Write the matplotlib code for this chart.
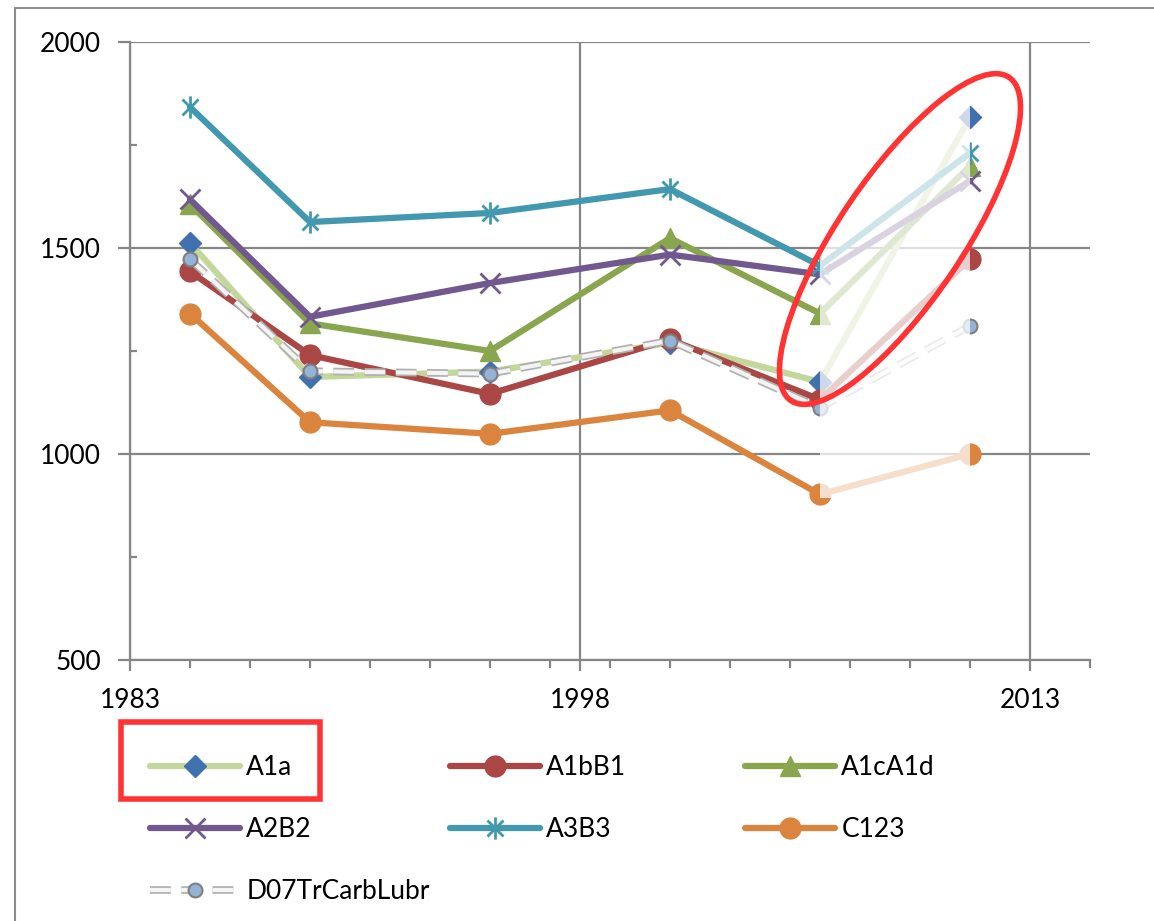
import numpy as np
import matplotlib.pyplot as plt
import matplotlib.patheffects as pe
from matplotlib.patches import Ellipse, Rectangle
from matplotlib.path import Path

plt.rcParams['font.family'] = ['Lato', 'DejaVu Sans']

years = [1985, 1989, 1995, 2001, 2006, 2011]
a1a = [1512, 1187, 1200, 1270, 1175, 1817]
a1bb1 = [1443, 1240, 1146, 1278, 1132, 1473]
a1ca1d = [1606, 1317, 1250, 1524, 1341, 1699]
a2b2 = [1618, 1333, 1415, 1484, 1436, 1663]
a3b3 = [1842, 1563, 1585, 1643, 1457, 1731]
c123 = [1341, 1077, 1049, 1106, 902, 1000]
d07 = [1473, 1201, 1195, 1275, 1112, 1311]

x_major = [1983, 1998, 2013]
x_minor = list(range(1985, 2016, 2))
y_major = [500, 1000, 1500, 2000]
y_minor = [750, 1250, 1750]

# excel style asterisk: X with a vertical bar
star = Path([(0, -1), (0, 1), (-0.72, -0.72), (0.72, 0.72), (-0.72, 0.72), (0.72, -0.72)],
            [Path.MOVETO, Path.LINETO] * 3)

gray = '#868686'
fig = plt.figure(figsize=(11.54, 9.21), dpi=100)
ax = fig.add_axes([130 / 1154, 1 - 660 / 921, 960 / 1154, 618 / 921])

kw = dict(lw=4.5, solid_capstyle='round', solid_joinstyle='round')
h_a1a, = ax.plot(years, a1a, color='#C3D69B', marker='D', ms=11, mfc='#4070AD', mec='#4070AD', **kw)
h_a1b, = ax.plot(years, a1bb1, color='#AA4643', marker='o', ms=15, **kw)
h_a1c, = ax.plot(years, a1ca1d, color='#89A54E', marker='^', ms=15, **kw)
h_a2, = ax.plot(years, a2b2, color='#71588F', marker='x', ms=15, mew=2, **kw)
h_a3, = ax.plot(years, a3b3, color='#4198AF', marker=star, ms=16, mew=2, **kw)
h_c, = ax.plot(years, c123, color='#DB843D', marker='o', ms=15, **kw)
d_line, = ax.plot(years, d07, color='#F4F4F4', lw=3, ls=(0, (5, 2.5)),
                  path_effects=[pe.Stroke(linewidth=5.5, foreground='#B0B0B0'), pe.Normal()])
d_mark, = ax.plot(years, d07, ls='none', marker='o', ms=10, mfc='#95B3D7', mec='#7F7F7F', mew=1.5)

# faded last segment
ax.add_patch(Rectangle((2006, 893), 5, 1000, facecolor='white', alpha=0.74, edgecolor='none', zorder=5))

ax.set_xlim(1983, 2015)
ax.set_ylim(500, 2000)
ax.set_xticks(x_major)
ax.set_xticks(x_minor, minor=True)
ax.set_yticks(y_major)
ax.set_yticks(y_minor, minor=True)
ax.grid(True, which='major', color=gray, lw=1.6)
ax.set_axisbelow(True)
for s in ['top', 'right']:
    ax.spines[s].set_visible(False)
for s in ['left', 'bottom']:
    ax.spines[s].set_color(gray)
    ax.spines[s].set_linewidth(1.6)
ax.tick_params(axis='x', which='major', direction='out', length=8, width=1.6, color=gray,
               labelsize=19, pad=12)
ax.tick_params(axis='x', which='minor', direction='out', length=6, width=1.6, color=gray)
ax.tick_params(axis='y', which='major', direction='out', length=9, width=1.6, color=gray,
               labelsize=19, pad=12)
ax.tick_params(axis='y', which='minor', direction='in', length=5, width=1.6, color=gray)

# legend, one column at a time, laid out row by row like excel
cols = [([h_a1a, h_a2, (d_line, d_mark)], ['A1a', 'A2B2', 'D07TrCarbLubr'], 150),
        ([h_a1b, h_a3], ['A1bB1', 'A3B3'], 450),
        ([h_a1c, h_c], ['A1cA1d', 'C123'], 745)]
for hs, ls, xpix in cols:
    fig.legend(hs, ls, loc='upper left', bbox_to_anchor=(xpix / 1154, 1 - 755 / 921),
               frameon=False, fontsize=19, handlelength=3.4, handletextpad=0.25,
               labelspacing=1.4, borderpad=0, borderaxespad=0)

# outer chart border
fig.add_artist(Rectangle((0.15, -1), 20, 10.13, transform=fig.dpi_scale_trans,
                         fill=False, edgecolor='#8C8C8C', lw=1.5))

# red highlights
fig.add_artist(Ellipse((9.0, 6.82), 3.9, 1.24, angle=56, transform=fig.dpi_scale_trans,
                       fill=False, edgecolor='#FF3333', lw=4, zorder=10))
fig.add_artist(Rectangle((1.21, 1.22), 1.99, 0.77, transform=fig.dpi_scale_trans,
                         fill=False, edgecolor='#FF3333', lw=4, zorder=10))

fig.savefig('out.png', dpi=100)
